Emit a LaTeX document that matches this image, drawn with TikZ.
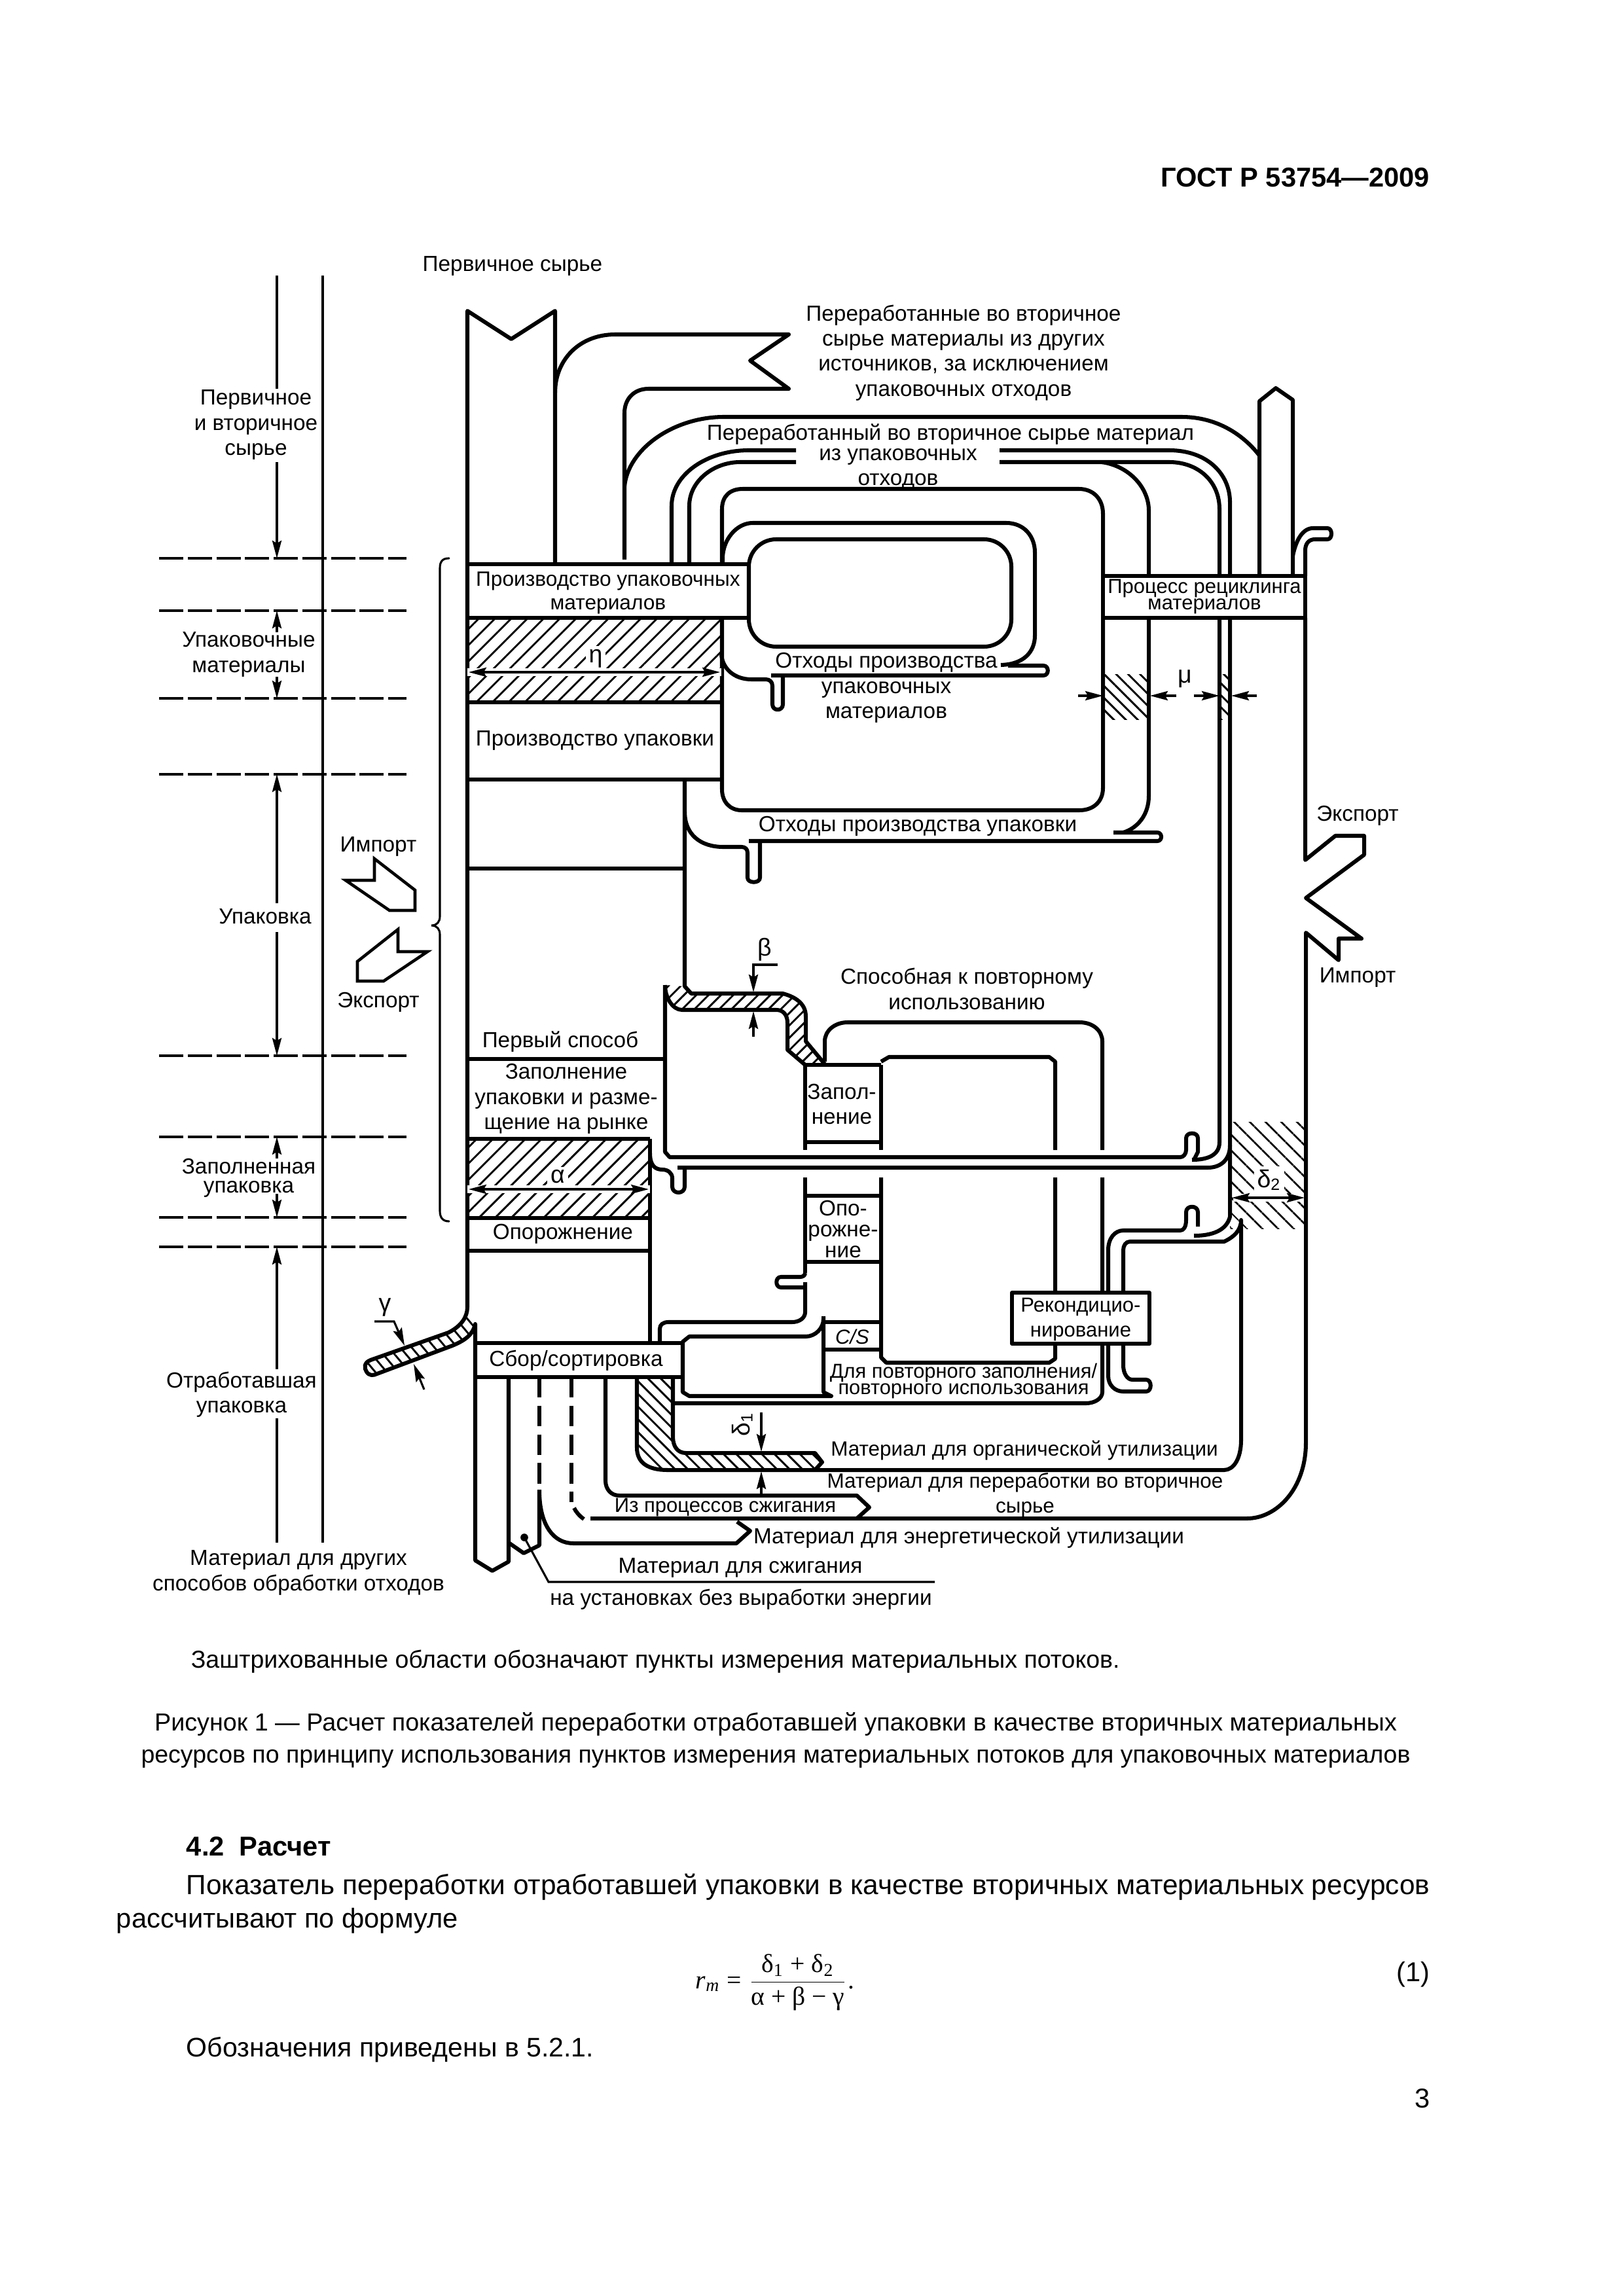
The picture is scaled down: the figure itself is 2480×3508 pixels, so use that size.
\documentclass[tikz,border=0pt]{standalone}
\usepackage{fontspec}
\usepackage{amsmath}
\setmainfont{Liberation Sans}
\newfontfamily\formulafont{Liberation Serif}
\usetikzlibrary{arrows.meta,patterns.meta}
\tikzset{
  flow/.style={line width=1.45pt,line join=round},
  flowdash/.style={flow,dash pattern=on 7.5pt off 3pt},
  rule/.style={line width=1.1pt},
  zone/.style={line width=1.1pt,dash pattern=on 8.9pt off 1.6pt},
  dim/.style={line width=.75pt},
  tip/.tip={Stealth[length=6.5pt,width=3.4pt,inset=1pt]},
  lab/.style={font=\fontsize{8}{9.2}\selectfont,inner sep=0pt,align=center},
  labsmall/.style={font=\fontsize{7.45}{9}\selectfont,inner sep=0pt,align=center},
  labtight/.style={font=\fontsize{7.4}{6}\selectfont,inner sep=0pt,align=center},
  body/.style={font=\fontsize{10}{12}\selectfont,inner sep=0pt,anchor=west},
  capline/.style={font=\fontsize{9}{12}\selectfont,inner sep=0pt},
  hatchwide/.style={pattern={Lines[angle=45,distance=4.2pt,line width=.7pt]}},
  hatchback/.style={pattern={Lines[angle=-45,distance=4pt,line width=.7pt]}},
  hatchfine/.style={pattern={Lines[angle=-45,distance=3.1pt,line width=.7pt]}},
  greek/.style={font=\fontsize{9}{10}\selectfont,fill=white,inner sep=1.2pt}
}
\begin{document}
\begin{tikzpicture}[x=0.24pt,y=-0.24pt]
  \useasboundingbox (0,0) rectangle (2480,3508);
  % hatched measuring points
  \path[hatchwide] (714,944) rectangle (1102,1073);
  \path[hatchwide] (714,1740) rectangle (993,1861);
  \path[hatchfine] (1685,1030) rectangle (1755,1099);
  \path[hatchfine] (1863,1030) rectangle (1879,1099);
  \path[hatchback] (1879,1714) rectangle (1994,1877);
  \path[pattern={Lines[angle=45,distance=3.2pt,line width=.7pt]}] (1046,1507) -- (1056,1518) -- (1196,1518)
    .. controls (1218,1524) and (1231,1535) .. (1231,1553) -- (1231,1591) -- (1261,1627) -- (1230,1627)
    -- (1203,1604) -- (1203,1563) .. controls (1203,1550) and (1196,1543) .. (1186,1543) -- (1042,1543)
    .. controls (1028,1543) and (1016,1525) .. (1016,1505) -- cycle;
  \path[pattern={Lines[angle=-45,distance=3.3pt,line width=.7pt]}] (973,2104) -- (1028,2104) -- (1028,2195)
    .. controls (1028,2210) and (1035,2220) .. (1048,2220) -- (1245,2220) -- (1256,2234) -- (1245,2246)
    -- (1020,2246) .. controls (990,2246) and (973,2235) .. (973,2212) -- cycle;
  \path[pattern={Lines[angle=-50,distance=3.2pt,line width=.7pt]}] (714,1997) .. controls (714,2012) and (705,2026) .. (685,2036)
    -- (566,2078) .. controls (556,2082) and (556,2090) .. (560,2096) .. controls (564,2102) and (570,2102) .. (576,2099)
    -- (691,2056) .. controls (710,2048) and (722,2040) .. (726,2023) -- cycle;
  % left scale
  \foreach \yy in {853,933,1067,1183,1613,1737,1860,1905}
    \draw[zone] (243,\yy) -- (621,\yy);
  \draw[rule] (493,421) -- (493,2357);
  \draw[dim,-{tip}] (423,706) -- (423,853);
  \draw[dim] (423,421) -- (423,594);
  \draw[dim,-{tip}] (423,966) -- (423,933);
  \draw[dim,-{tip}] (423,1034) -- (423,1067);
  \draw[dim,-{tip}] (423,1380) -- (423,1183);
  \draw[dim,-{tip}] (423,1424) -- (423,1613);
  \draw[dim,-{tip}] (423,1770) -- (423,1737);
  \draw[dim,-{tip}] (423,1824) -- (423,1860);
  \draw[dim,-{tip}] (423,2092) -- (423,1905);
  \draw[dim] (423,2167) -- (423,2357);
  \draw[dim,line cap=round] (686,853) .. controls (676,853) and (672,858) .. (672,868) -- (672,1400)
    .. controls (672,1408) and (668,1414) .. (659,1414) .. controls (668,1414) and (672,1420) .. (672,1428)
    -- (672,1850) .. controls (672,1860) and (676,1866) .. (686,1866);
  \draw[rule] (528,1345) -- (572,1345) -- (572,1312) -- (634,1360) -- (634,1391) -- (595,1391) -- cycle;
  \draw[rule] (653,1454) -- (608,1454) -- (608,1420) -- (546,1469) -- (546,1499) -- (586,1499) -- cycle;
  % main stream and primary material
  \draw[flow] (848,862) -- (848,475) -- (781,518) -- (714,475) -- (714,1997)
    .. controls (714,2012) and (705,2026) .. (685,2036) -- (566,2078)
    .. controls (556,2082) and (556,2090) .. (560,2096) .. controls (564,2102) and (570,2102) .. (576,2099)
    -- (691,2056) .. controls (710,2048) and (722,2040) .. (726,2023)
    -- (726,2384) -- (752,2400) -- (777,2386) -- (777,2104);
  \draw[flow] (714,862) -- (1144,862) (714,944) -- (1144,944) (714,1073) -- (1102,1073)
    (714,1191) -- (1102,1191) (714,1327) -- (1046,1327) (714,1618) -- (1016,1618)
    (714,1740) -- (993,1740) (714,1861) -- (993,1861) (714,1911) -- (993,1911) (993,1740) -- (993,2052);
  \draw[flow] (726,2052) -- (1043,2052) (726,2104) -- (1043,2104);
  % other sources
  \draw[flow] (848,600) .. controls (848,550) and (885,511) .. (940,511) -- (1205,511) -- (1146,551)
    -- (1205,594) -- (991,594) .. controls (968,594) and (954,610) .. (954,631) -- (954,855);
  \draw[flow] (954,743) .. controls (960,685) and (1030,637) .. (1106,637) -- (1805,637)
    .. controls (1860,637) and (1900,665) .. (1924,696);
  \draw[flow] (1924,880) -- (1924,613) -- (1949,593) -- (1975,611) -- (1975,880);
  % recycling stream
  \draw[flow] (1026,862) -- (1026,773) .. controls (1026,725) and (1080,688) .. (1144,688) -- (1216,688);
  \draw[flow] (1527,688) -- (1786,688) .. controls (1845,688) and (1879,725) .. (1879,767) -- (1879,1859)
    .. controls (1875,1875) and (1860,1888) .. (1824,1888);
  \draw[flow] (1053,862) -- (1053,773) .. controls (1053,735) and (1090,706) .. (1131,706) -- (1216,706);
  \draw[flow] (1527,706) -- (1786,706) .. controls (1830,706) and (1863,735) .. (1863,778) -- (1863,1745)
    .. controls (1863,1765) and (1845,1772) .. (1821,1772);
  \draw[flow] (1683,706) .. controls (1725,712) and (1755,745) .. (1755,780) -- (1755,1216)
    .. controls (1755,1245) and (1738,1265) .. (1716,1272);
  \draw[flow] (1701,1272) -- (1768,1272) .. controls (1776,1272) and (1776,1285) .. (1768,1285) -- (1144,1285);
  \draw[flow] (1161,1285) -- (1161,1341) .. controls (1161,1350) and (1142,1350) .. (1142,1341) -- (1142,1303)
    .. controls (1142,1297) and (1138,1294) .. (1133,1294) -- (1105,1294) .. controls (1070,1294) and (1046,1275) .. (1046,1240);
  \draw[flow,rounded corners=10pt] (1144,824) rectangle (1545,988);
  \draw[flow] (1104,862) -- (1104,853) .. controls (1104,825) and (1125,799) .. (1150,799) -- (1537,799)
    .. controls (1565,799) and (1581,820) .. (1581,844) -- (1581,971) .. controls (1581,995) and (1565,1015) .. (1529,1016);
  \draw[flow] (1540,1017) -- (1594,1017) .. controls (1603,1017) and (1603,1032) .. (1594,1032) -- (1178,1032);
  \draw[flow] (1196,1032) -- (1196,1076) .. controls (1196,1087) and (1180,1087) .. (1180,1076) -- (1180,1048)
    .. controls (1180,1042) and (1176,1038) .. (1170,1038) -- (1148,1038) .. controls (1122,1038) and (1104,1022) .. (1102,1000);
  \draw[flow] (1103,862) -- (1103,778) .. controls (1103,758) and (1115,747) .. (1135,747) -- (1648,747)
    .. controls (1670,747) and (1685,762) .. (1685,785) -- (1685,1204) .. controls (1685,1225) and (1670,1238) .. (1649,1238)
    -- (1133,1238) .. controls (1115,1238) and (1103,1225) .. (1103,1206) -- (1103,944);
  \draw[flow,fill=white] (1685,880) rectangle (1994,944);
  % export, import
  \draw[flow] (1975,849) .. controls (1980,825) and (1990,807) .. (2006,807) -- (2028,807)
    .. controls (2036,807) and (2036,824) .. (2028,824) -- (2009,824) .. controls (2000,824) and (1994,830) .. (1994,841)
    -- (1994,880) (1994,944) -- (1994,1314) -- (2040,1277) -- (2084,1277) -- (2084,1306) -- (1995,1372) -- (2080,1434) -- (2045,1434)
    -- (2045,1467) -- (1995,1425) -- (1995,2204) .. controls (1995,2275) and (1950,2320) .. (1905,2320) -- (902,2320);
  % filling stage
  \draw[flow] (1046,1191) -- (1046,1507) -- (1056,1518) -- (1196,1518)
    .. controls (1218,1524) and (1231,1535) .. (1231,1553) -- (1231,1591) -- (1261,1627);
  \draw[flow] (1016,1505) .. controls (1016,1525) and (1028,1543) .. (1042,1543) -- (1186,1543)
    .. controls (1196,1543) and (1203,1550) .. (1203,1563) -- (1203,1604) -- (1230,1627);
  \draw[flow] (1016,1505) -- (1016,1760) -- (1023,1768) -- (1803,1768) .. controls (1808,1768) and (1812,1763) .. (1812,1757)
    -- (1812,1739) .. controls (1812,1729) and (1830,1729) .. (1830,1739) -- (1830,1760) -- (1824,1772);
  \draw[flow] (1879,1750) .. controls (1879,1772) and (1865,1784) .. (1845,1784) -- (1035,1784);
  \draw[flow] (1046,1784) -- (1046,1813) .. controls (1046,1825) and (1027,1825) .. (1027,1813) -- (1027,1800)
    .. controls (1027,1792) and (1020,1787) .. (1012,1787) .. controls (1000,1787) and (993,1780) .. (993,1762);
  \draw[flow] (1230,1627) -- (1346,1627) (1230,1745) -- (1346,1745) (1230,1827) -- (1346,1827) (1230,1928) -- (1346,1928);
  \draw[flow] (1230,1627) -- (1230,1757) (1346,1627) -- (1346,1757) (1230,1799) -- (1230,1945);
  \draw[flow] (1346,1799) -- (1346,2074) -- (1354,2082) -- (1603,2082) -- (1612,2076) -- (1612,2053);
  \draw[flow] (1612,1975) -- (1612,1799) (1612,1757) -- (1612,1622) -- (1603,1615) -- (1358,1615) -- (1346,1622);
  \draw[flow] (1260,1622) -- (1260,1591) .. controls (1260,1575) and (1275,1562) .. (1295,1562) -- (1649,1562)
    .. controls (1670,1562) and (1684,1575) .. (1684,1591) -- (1684,1757);
  \draw[flow] (1684,1799) -- (1684,1975) (1684,2053) -- (1684,2127) .. controls (1684,2137) and (1672,2144) .. (1659,2144) -- (1028,2144);
  \draw[flow] (1230,1945) .. controls (1230,1949) and (1226,1951) .. (1222,1951) -- (1193,1951)
    .. controls (1184,1951) and (1184,1967) .. (1193,1967) -- (1228,1967);
  \draw[flow] (1230,1959) -- (1230,2005) .. controls (1230,2013) and (1222,2020) .. (1210,2020) -- (1021,2020)
    .. controls (1013,2020) and (1008,2024) .. (1008,2030) -- (1008,2052);
  \draw[flow] (1258,2011) -- (1258,2127) -- (1270,2133) -- (1053,2133) -- (1043,2127) -- (1043,2050) -- (1053,2042) -- (1231,2042)
    .. controls (1245,2042) and (1258,2030) .. (1258,2015);
  \draw[flow] (1258,2020) -- (1346,2020) (1258,2062) -- (1346,2062);
  % reconditioning
  \draw[flow,fill=white] (1546,1975) rectangle (1756,2053);
  \draw[flow] (1693,1975) -- (1693,1910) .. controls (1693,1892) and (1703,1880) .. (1716,1880) -- (1803,1880)
    .. controls (1808,1880) and (1812,1875) .. (1812,1864) -- (1812,1852) .. controls (1812,1841) and (1830,1841) .. (1830,1852) -- (1830,1874);
  \draw[flow] (1716,1975) -- (1716,1910) .. controls (1716,1903) and (1720,1897) .. (1726,1897) -- (1870,1897)
    .. controls (1885,1890) and (1896,1880) .. (1896,1864) -- (1896,2200) .. controls (1896,2228) and (1885,2246) .. (1870,2246)
    -- (1020,2246) .. controls (990,2246) and (973,2235) .. (973,2212) -- (973,2104);
  \draw[flow] (1693,2053) -- (1693,2102) .. controls (1693,2116) and (1703,2126) .. (1716,2126) -- (1751,2126)
    .. controls (1760,2126) and (1760,2108) .. (1751,2108) -- (1730,2108) .. controls (1722,2108) and (1716,2098) .. (1716,2086) -- (1716,2053);
  % collection outlets
  \draw[flow] (1028,2104) -- (1028,2195) .. controls (1028,2210) and (1035,2220) .. (1048,2220) -- (1245,2220) -- (1256,2234) -- (1245,2246);
  \draw[flow] (925,2104) -- (925,2262) .. controls (925,2276) and (934,2285) .. (946,2285) -- (1309,2285) -- (1328,2303) -- (1309,2320);
  \draw[flowdash] (873,2104) -- (873,2295);
  \draw[flow] (877,2304) .. controls (880,2310) and (885,2316) .. (892,2321);
  \draw[flowdash] (824,2104) -- (824,2276);
  \draw[flow] (824,2276) -- (824,2361) -- (800,2373) -- (777,2357);
  \draw[flow] (824,2284) .. controls (826,2330) and (845,2358) .. (876,2358) -- (1125,2358) -- (1146,2339) -- (1126,2325);
  \fill (801,2349) circle (1.4pt);
  \draw[dim] (801,2349) -- (838,2417) -- (1428,2417);
  % measures
  \draw[white,line width=3pt] (714,1027) -- (1102,1027) (714,1817) -- (993,1817);
  \draw[dim,{tip}-{tip}] (716,1027) -- (1100,1027);
  \draw[dim,{tip}-{tip}] (716,1817) -- (991,1817);
  \node[greek] (etaLab) at (910,1006) {η};
  \node[greek] (alphaLab) at (852,1798) {α};
  \draw[dim,-{tip}] (1647,1063) -- (1685,1063);
  \draw[dim,-{tip}] (1797,1063) -- (1757,1063);
  \draw[dim,-{tip}] (1824,1063) -- (1863,1063);
  \draw[dim,-{tip}] (1920,1063) -- (1881,1063);
  \node[greek,fill=none] (muLab) at (1810,1037) {μ};
  \node[greek,fill=none] (betaLab) at (1168,1451) {β};
  \draw[dim,-{tip}] (1188,1474) -- (1151,1474) -- (1151,1516);
  \draw[dim,-{tip}] (1151,1584) -- (1151,1545);
  \node[greek,fill=none] (gammaLab) at (588,1997) {γ};
  \draw[dim,-{tip}] (572,2019) -- (602,2019) -- (618,2056);
  \draw[dim,-{tip}] (648,2123) -- (632,2084);
  \node[greek,fill=none,rotate=90] (deltaOneLab) at (1134,2176) {δ\textsubscript{1}};
  \draw[dim,-{tip}] (1163,2158) -- (1163,2218);
  \draw[dim,-{tip}] (1163,2282) -- (1163,2248);
  \node[greek] (deltaTwoLab) at (1939,1803) {δ\textsubscript{2}};
  \draw[white,line width=3pt] (1884,1830) -- (1990,1830);
  \draw[dim,{tip}-{tip}] (1882,1830) -- (1993,1830);
  % labels of the figure
  \node[lab] (lPrimaryTop) at (783,407) {Первичное сырье};
  \node[lab] (lOtherSrc) at (1472,539) {Переработанные во вторичное\\сырье материалы из других\\источников, за исключением\\упаковочных отходов};
  \node[lab] (lRecycled) at (1452,664) {Переработанный во вторичное сырье материал};
  \node[lab] (lRecycledB) at (1372,717) {из упаковочных\\отходов};
  \node[lab] (lRawScale) at (391,649) {Первичное\\и вторичное\\сырье};
  \node[lab] (lMatScale) at (380,1000) {Упаковочные\\материалы};
  \node[lab] (lPackScale) at (405,1400) {Упаковка};
  \node[labtight,font=\fontsize{8}{7}\selectfont] (lFilledScale) at (380,1800) {Заполненная\\упаковка};
  \node[lab] (lWasteScale) at (369,2131) {Отработавшая\\упаковка};
  \node[lab] (lOtherWaste) at (456,2403) {Материал для других\\способов обработки отходов};
  \node[lab] (lImportL) at (578,1293) {Импорт};
  \node[lab] (lExportL) at (578,1531) {Экспорт};
  \node[labsmall,font=\fontsize{7.6}{8.6}\selectfont] (lMatProd) at (929,906) {Производство упаковочных\\материалов};
  \node[lab] (lPackProd) at (909,1131) {Производство упаковки};
  \node[labsmall] (lRecProc) at (1840,899) {Процесс рециклинга};
  \node[labsmall] (lRecProcB) at (1840,926) {материалов};
  \node[lab] (lMatWaste) at (1354,1051) {Отходы производства\\упаковочных\\материалов};
  \node[lab] (lPackWaste) at (1402,1262) {Отходы производства упаковки};
  \node[lab] (lFirst) at (856,1592) {Первый способ};
  \node[lab] (lFill) at (865,1679) {Заполнение\\упаковки и разме-\\щение на рынке};
  \node[lab] (lEmpty) at (860,1885) {Опорожнение};
  \node[lab] (lFillB) at (1286,1687) {Запол-\\нение};
  \node[lab,font=\fontsize{8}{7.6}\selectfont] (lEmptyB) at (1288,1878) {Опо-\\рожне-\\ние};
  \node[lab] (lReuse) at (1477,1511) {Способная к повторному\\использованию};
  \node[labsmall,font=\fontsize{7.45}{9}\selectfont\itshape] (lCS) at (1302,2042) {C/S};
  \node[labsmall] (lRecond) at (1651,2016) {Рекондицио-\\нирование};
  \node[labtight] (lRefill) at (1472,2110) {Для повторного заполнения/\\повторного использования};
  \node[lab] (lCollect) at (880,2079) {Сбор/сортировка};
  \node[lab] (lExportR) at (2074,1246) {Экспорт};
  \node[lab] (lImportR) at (2074,1493) {Импорт};
  \node[labsmall,font=\fontsize{7.55}{9}\selectfont] (lOrganic) at (1565,2216) {Материал для органической утилизации};
  \node[labsmall,font=\fontsize{7.55}{9}\selectfont] (lSecondary) at (1566,2284) {Материал для переработки во вторичное\\сырье};
  \node[labsmall] (lIncin) at (1108,2303) {Из процессов сжигания};
  \node[lab] (lEnergy) at (1480,2350) {Материал для энергетической утилизации};
  \node[lab] (lBurn) at (1131,2395) {Материал для сжигания};
  \node[lab] (lNoEnergy) at (1132,2444) {на установках без выработки энергии};
  % page text
  \node[font=\fontsize{10}{12}\selectfont\bfseries,inner sep=0pt,anchor=east] (tStd) at (2185,271) {ГОСТ Р 53754—2009};
  \node[capline,anchor=west] (tNote) at (291,2539) {Заштрихованные области обозначают пункты измерения материальных потоков.};
  \node[capline,font=\fontsize{9.05}{12}\selectfont] (tFigA) at (1185,2634) {Рисунок 1 — Расчет показателей переработки отработавшей упаковки в качестве вторичных материальных};
  \node[capline] (tFigB) at (1185,2687) {ресурсов по принципу использования пунктов измерения материальных потоков для упаковочных материалов};
  \node[body,font=\fontsize{10}{12}\selectfont\bfseries] (tSec) at (284,2821) {4.2\ \ Расчет};
  \node[body,font=\fontsize{10.17}{12}\selectfont] (tParaA) at (284,2883) {Показатель переработки отработавшей упаковки в качестве вторичных материальных ресурсов};
  \node[body] (tParaB) at (177,2935) {рассчитывают по формуле};
  \node[font=\fontsize{9.5}{11}\selectfont\formulafont,inner sep=0pt,anchor=west] (tFormula) at (1062,3029) {\textit{r}\textsubscript{\textit{m}} = \(\dfrac{\mbox{δ\textsubscript{1} + δ\textsubscript{2}}}{\mbox{α + β − γ}}\).};
  \node[font=\fontsize{10}{12}\selectfont,inner sep=0pt,anchor=east] (tEqNo) at (2185,3017) {(1)};
  \node[body,font=\fontsize{9.85}{12}\selectfont] (tRef) at (284,3132) {Обозначения приведены в 5.2.1.};
  \node[font=\fontsize{10}{12}\selectfont,inner sep=0pt,anchor=east] (tPage) at (2185,3206) {3};
\end{tikzpicture}
\end{document}
